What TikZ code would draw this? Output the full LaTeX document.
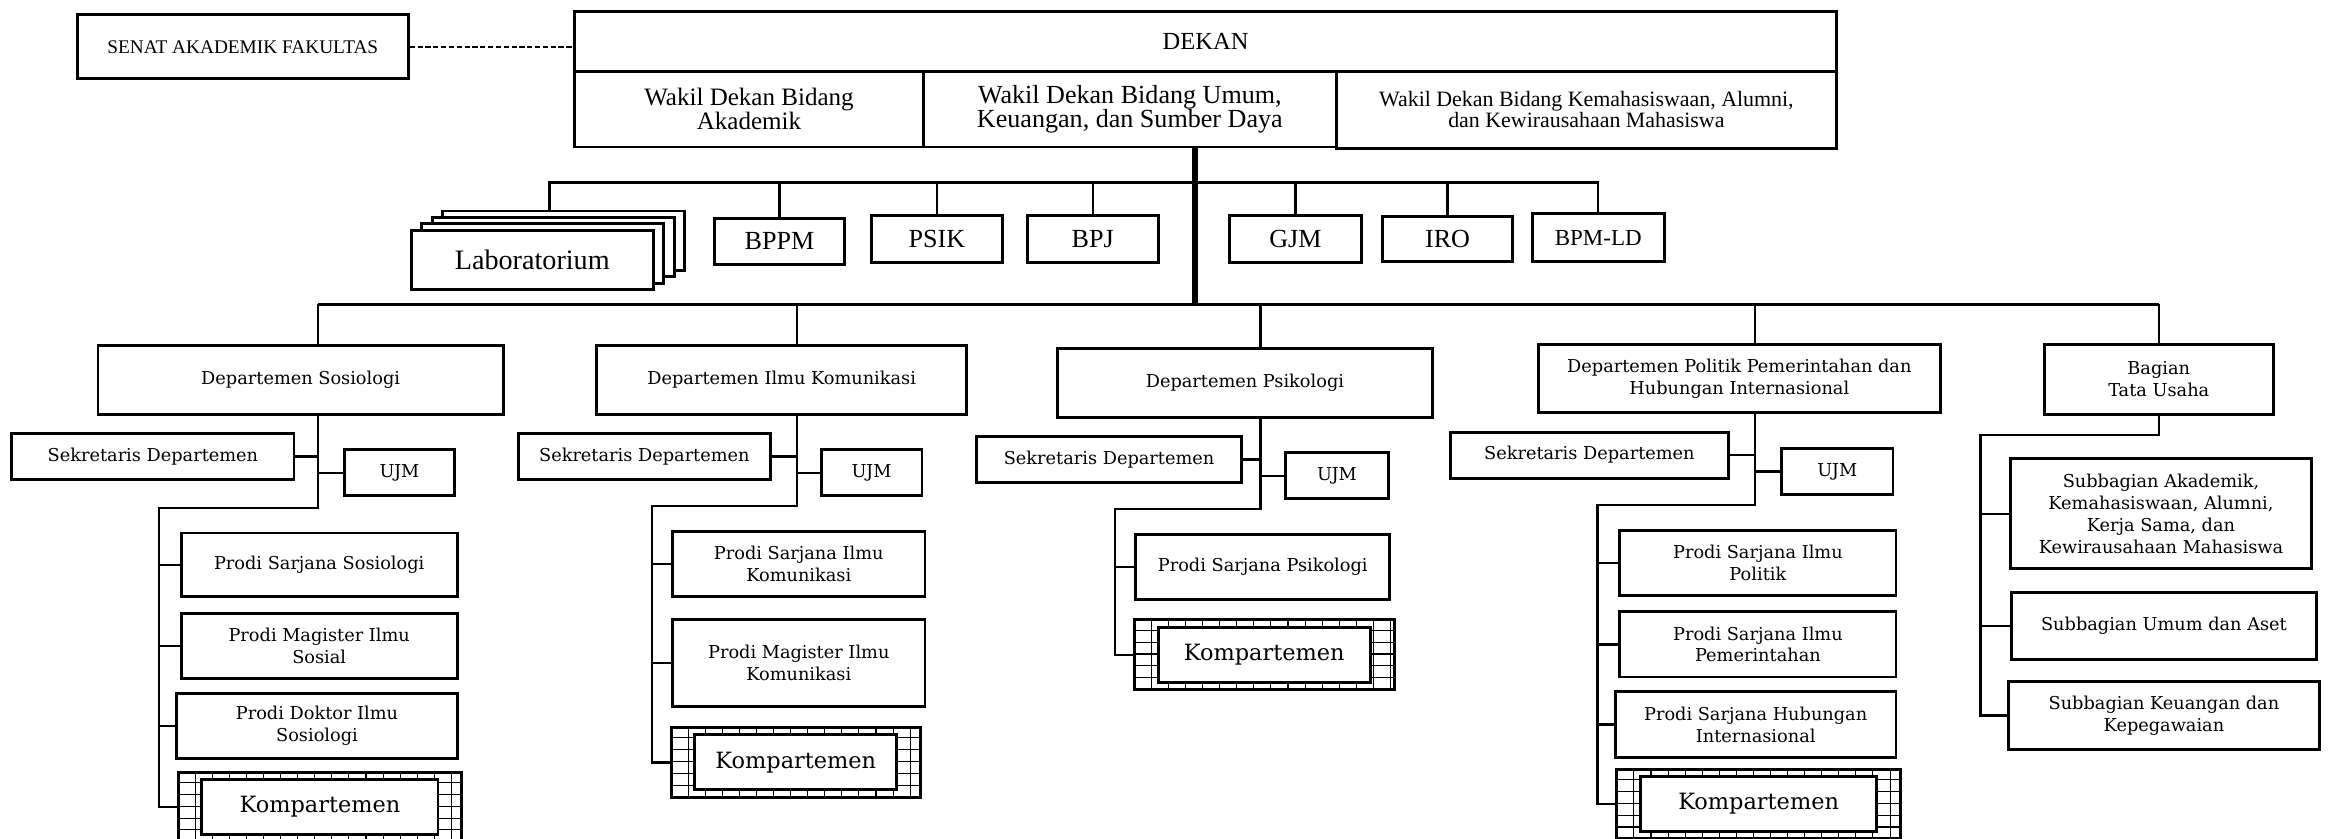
\documentclass[tikz,border=0pt]{standalone}
\usepackage{fontspec}
\setmainfont{DejaVu Serif}
\newfontfamily\topfont{Liberation Serif}
\tikzset{
  orgbox/.style={draw, line width=2.8pt, fill=white, align=center, inner sep=0pt},
  boxsize/.style 2 args={minimum width={(#1)*0.5mm}, minimum height={(#2)*0.5mm}},
  toptxt/.style 2 args={font=\topfont\fontsize{#1}{#2}\selectfont},
  subtxt/.style={font=\fontsize{17}{21}\selectfont},
  komptxt/.style={font=\fontsize{21.5}{24}\selectfont},
  orglink/.style={line width=2.3pt},
  trunk/.style={line width=5.5pt},
  kompgrid/.style={draw, line width=2.8pt, fill=white, path picture={
      \foreach \k in {0,...,40}{
        \draw[line width=1pt] ([xshift=\k*5.75mm]path picture bounding box.south west) -- ++(0,10cm);
        \draw[line width=1pt] ([yshift=\k*4mm]path picture bounding box.south west) -- ++(30cm,0);
      }}},
}
\begin{document}
\begin{tikzpicture}[x=0.5mm, y=-0.5mm]
  \useasboundingbox (0,0) rectangle (1568,565);
  % pimpinan
  \node[orgbox, toptxt={18.5}{20}, boxsize={223}{43}] (senat) at (163.5,31.5) {SENAT AKADEMIK FAKULTAS};
  \node[orgbox, toptxt={23.5}{24}, boxsize={850}{40}] (dekan) at (812,28) {DEKAN};
  \node[orgbox, toptxt={24}{23}, boxsize={235}{51}] (wdA) at (504.5,73.5) {Wakil Dekan Bidang\\Akademik};
  \node[orgbox, toptxt={25}{23}, boxsize={278}{51}] (wdB) at (761,73.5) {Wakil Dekan Bidang Umum,\\Keuangan, dan Sumber Daya};
  \node[orgbox, toptxt={21}{20}, boxsize={337}{52}] (wdC) at (1068.5,74) {Wakil Dekan Bidang Kemahasiswaan, Alumni,\\dan Kewirausahaan Mahasiswa};
  \draw[orglink, dash pattern=on 5pt off 2.5pt] (senat.east) -- (senat.east -| dekan.west);
  % unit
  \foreach \n/\x/\y in {labA/379.5/162.1, labB/372.5/166.4, labC/365.5/170.7}
    \node[orgbox, boxsize={163}{40}] (\n) at (\x,\y) {};
  \node[orgbox, toptxt={27}{28}, boxsize={163}{40}] (lab) at (358.5,175) {Laboratorium};
  \foreach \n/\lbl/\x/\y/\w/\h in {bppm/BPPM/525/162.5/88/31, psik/PSIK/631/161/88/32,
      bpj/BPJ/736/161/88/32, gjm/GJM/872.5/161/89/32, iro/IRO/975/161/88/30}
    \node[orgbox, toptxt={25}{25}, boxsize={\w}{\h}] (\n) at (\x,\y) {\lbl};
  \node[orgbox, toptxt={22}{22}, boxsize={89}{32}] (bpmld) at (1076.5,160) {BPM-LD};
  \coordinate (unitbar) at (805,123);
  \coordinate (deptbar) at (805,205);
  \draw[orglink] ([xshift=-4.75mm]labA.north) |- (unitbar) -| (bpmld.north);
  \foreach \n in {bppm,psik,bpj,gjm,iro}
    \draw[orglink] (\n.north) -- (\n.north |- unitbar);
  \draw[trunk] (wdB.south -| unitbar) -- (deptbar);
  % departemen
  \node[orgbox, subtxt, boxsize={273}{46}] (dSos) at (202.5,256) {Departemen Sosiologi};
  \node[orgbox, subtxt, boxsize={249}{46}] (dKom) at (526.5,256) {Departemen Ilmu Komunikasi};
  \node[orgbox, subtxt, boxsize={253}{46}] (dPsi) at (838.5,258) {Departemen Psikologi};
  \node[orgbox, subtxt, boxsize={271}{46}] (dPol) at (1171.5,255) {Departemen Politik Pemerintahan dan\\Hubungan Internasional};
  \node[orgbox, subtxt, boxsize={154}{47}] (tu) at (1454,255.5) {Bagian\\Tata Usaha};
  \foreach \n/\x/\y/\w in {sekSos/103/307.5/190, sekKom/434/307.5/170, sekPsi/747/309.5/178, sekPol/1070.5/306.5/187}
    \node[orgbox, subtxt, boxsize={\w}{31}] (\n) at (\x,\y) {Sekretaris Departemen};
  \foreach \n/\x/\y/\w in {ujmSos/269/318.5/74, ujmKom/587/318.5/68, ujmPsi/900.5/320.5/69, ujmPol/1237.5/317.5/75}
    \node[orgbox, subtxt, boxsize={\w}{31}] (\n) at (\x,\y) {UJM};
  \node[orgbox, subtxt, boxsize={186}{43}] (p1Sos) at (215,380.5) {Prodi Sarjana Sosiologi};
  \node[orgbox, subtxt, boxsize={186}{44}] (p2Sos) at (215,435) {Prodi Magister Ilmu\\Sosial};
  \node[orgbox, subtxt, boxsize={189}{44}] (p3Sos) at (213.5,489) {Prodi Doktor Ilmu\\Sosiologi};
  \node[orgbox, subtxt, boxsize={170}{44}] (p1Kom) at (538,380) {Prodi Sarjana Ilmu\\Komunikasi};
  \node[orgbox, subtxt, boxsize={170}{59}] (p2Kom) at (538,446.5) {Prodi Magister Ilmu\\Komunikasi};
  \node[orgbox, subtxt, boxsize={171}{44}] (p1Psi) at (850.5,382) {Prodi Sarjana Psikologi};
  \node[orgbox, subtxt, boxsize={186}{44}] (p1Pol) at (1184,379) {Prodi Sarjana Ilmu\\Politik};
  \node[orgbox, subtxt, boxsize={186}{44}] (p2Pol) at (1184,434) {Prodi Sarjana Ilmu\\Pemerintahan};
  \node[orgbox, subtxt, boxsize={189}{44}] (p3Pol) at (1182.5,488) {Prodi Sarjana Hubungan\\Internasional};
  \node[orgbox, subtxt, boxsize={203}{74}] (s1) at (1455.5,346) {Subbagian Akademik,\\Kemahasiswaan, Alumni,\\Kerja Sama, dan\\Kewirausahaan Mahasiswa};
  \node[orgbox, subtxt, boxsize={205}{45}] (s2) at (1457.5,421.5) {Subbagian Umum dan Aset};
  \node[orgbox, subtxt, boxsize={209}{46}] (s3) at (1457.5,482) {Subbagian Keuangan dan\\Kepegawaian};
  \foreach \n/\x/\y/\w in {kSos/215.5/543.5/191, kKom/536/513.5/168, kPsi/851.5/441/175, kPol/1184.5/541.5/191}{
    \node[kompgrid, boxsize={\w}{47}] (\n) at (\x,\y) {};
    \node[orgbox, komptxt, boxsize={\w-32}{37}] (\n-in) at (\n) {Kompartemen};
  }
  % garis
  \coordinate (jSos) at (214,342);  \coordinate (bSos) at (107,342);
  \coordinate (jKom) at (537,341);  \coordinate (bKom) at (439,341);
  \coordinate (jPsi) at (849,343);  \coordinate (bPsi) at (751,343);
  \coordinate (jPol) at (1182,340); \coordinate (bPol) at (1076,340);
  \coordinate (jTu) at (1454,293);  \coordinate (bTu) at (1334,293);
  \draw[orglink] (jSos |- deptbar) -- (jTu |- deptbar);
  \foreach \d/\j in {dSos/jSos, dKom/jKom, dPsi/jPsi, dPol/jPol, tu/jTu}
    \draw[orglink] (\j |- deptbar) -- (\j |- \d.north);
  \foreach \d/\j/\b/\s/\u/\k in {dSos/jSos/bSos/sekSos/ujmSos/kSos, dKom/jKom/bKom/sekKom/ujmKom/kKom,
      dPsi/jPsi/bPsi/sekPsi/ujmPsi/kPsi, dPol/jPol/bPol/sekPol/ujmPol/kPol}{
    \draw[orglink] (\j |- \d.south) -- (\j) -- (\b) |- (\k.west);
    \draw[orglink] (\s.east) -- (\s.east -| \j);
    \draw[orglink] (\u.west) -- (\u.west -| \j);
  }
  \foreach \p/\b in {p1Sos/bSos, p2Sos/bSos, p3Sos/bSos, p1Kom/bKom, p2Kom/bKom, p1Psi/bPsi,
      p1Pol/bPol, p2Pol/bPol, p3Pol/bPol, s1/bTu, s2/bTu}
    \draw[orglink] (\p.west) -- (\p.west -| \b);
  \draw[orglink] (tu.south) -- (jTu) -- (bTu) |- (s3.west);
\end{tikzpicture}
\end{document}
